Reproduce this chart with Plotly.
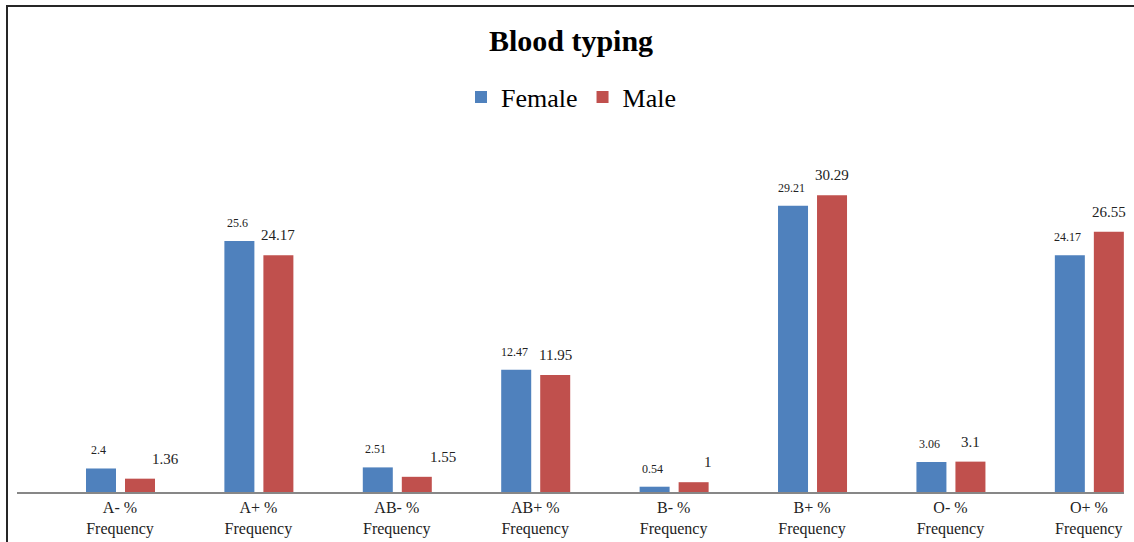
import plotly.graph_objects as go

categories = ["A- %<br>Frequency", "A+ %<br>Frequency", "AB- %<br>Frequency", "AB+ %<br>Frequency",
              "B- %<br>Frequency", "B+ %<br>Frequency", "O- %<br>Frequency", "O+ %<br>Frequency"]
female = [2.4, 25.6, 2.51, 12.47, 0.54, 29.21, 3.06, 24.17]
male = [1.36, 24.17, 1.55, 11.95, 1.0, 30.29, 3.1, 26.55]
female_labels = ["2.4", "25.6", "2.51", "12.47", "0.54", "29.21", "3.06", "24.17"]
male_labels = ["1.36", "24.17", "1.55", "11.95", "1", "30.29", "3.1", "26.55"]
# horizontal nudges (px) of male labels on the small bars, as in the reference
male_label_xshift = [26, 0, 26, 0, 14, 0, 0, 0]

FEMALE_C = "#4F81BD"
MALE_C = "#C0504D"
FONT = "Liberation Serif, Times New Roman, serif"

W, H = 1134, 542
L, R, T, B = 17, 10, 140, 50
plot_w = W - L - R
plot_h = H - T - B
cat_px = 138.4
bar_w = 30 / cat_px

fig = go.Figure()
fig.add_trace(go.Bar(name="Female", x=categories, y=female, marker_color=FEMALE_C,
                     width=bar_w, offset=-34 / cat_px, marker_line_width=0))
fig.add_trace(go.Bar(name="Male", x=categories, y=male, marker_color=MALE_C,
                     width=bar_w, offset=5 / cat_px, marker_line_width=0))

f_center = (-34 / cat_px) + bar_w / 2
m_center = (5 / cat_px) + bar_w / 2
for i, (fv, mv) in enumerate(zip(female, male)):
    fig.add_annotation(x=i + f_center - 2 / cat_px, y=fv, text=female_labels[i], showarrow=False,
                       yanchor="middle", yshift=18, font=dict(family=FONT, size=12, color="#222"))
    fig.add_annotation(x=i + m_center, y=mv, text=male_labels[i], showarrow=False,
                       yanchor="middle", yshift=20, xshift=male_label_xshift[i],
                       font=dict(family=FONT, size=15, color="#222"))

# chart frame
fig.add_shape(type="rect", xref="paper", yref="paper",
              x0=(7 - L) / plot_w, x1=(W + 20 - L) / plot_w,
              y0=-(B + 20) / plot_h, y1=(H - B - 6) / plot_h,
              line=dict(color="#262626", width=2), fillcolor="rgba(0,0,0,0)", layer="above")

fig.update_layout(
    width=W, height=H,
    margin=dict(l=L, r=R, t=T, b=B, autoexpand=False),
    paper_bgcolor="white", plot_bgcolor="white",
    title=dict(text="<b>Blood typing</b>", x=571 / W, xanchor="center", y=1 - 40 / H, yanchor="middle",
               font=dict(family=FONT, size=30, color="#000")),
    legend=dict(orientation="h", x=(571 - L) / plot_w, xanchor="center", y=(H - B - 97) / plot_h,
                yanchor="middle", font=dict(family=FONT, size=26, color="#000"),
                itemwidth=30, tracegroupgap=0, bgcolor="rgba(0,0,0,0)"),
    showlegend=True,
    xaxis=dict(type="category", range=[-0.744, 7.254], showline=True, linecolor="#878787", linewidth=2,
               ticks="", showgrid=False, automargin=False,
               tickfont=dict(family=FONT, size=16, color="#222")),
    yaxis=dict(range=[0, plot_h / 9.8], visible=False, showgrid=False, automargin=False),
)

fig.write_html("out.html", config={"displayModeBar": False},
               post_script="document.body.style.margin='0';document.body.style.overflow='hidden';")
